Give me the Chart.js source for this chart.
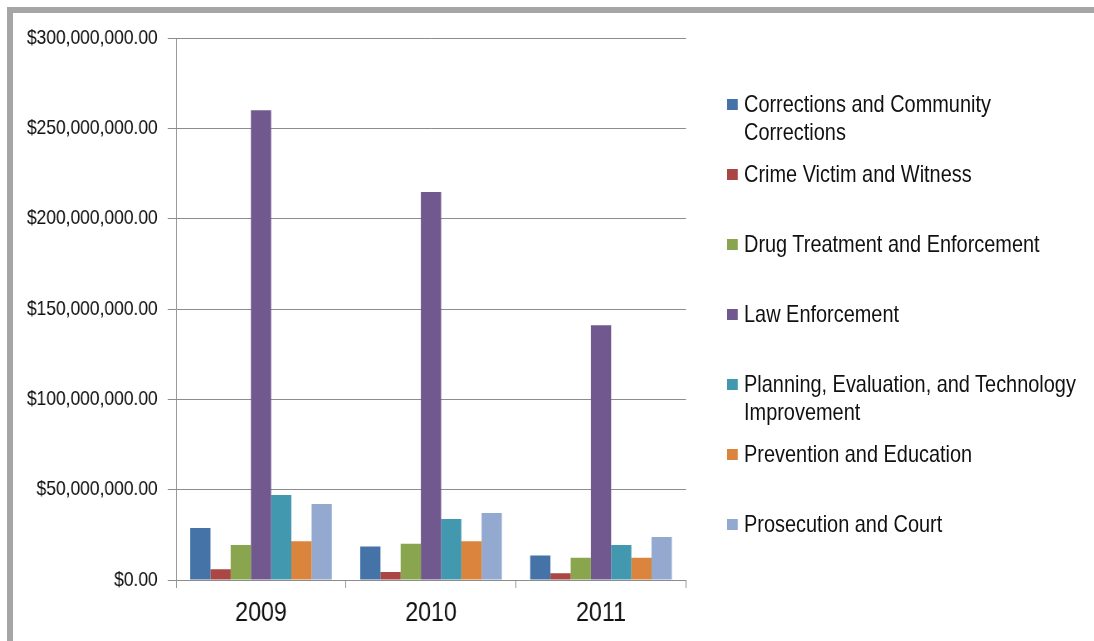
<!DOCTYPE html>
<html>
<head>
<meta charset="utf-8">
<script src="https://cdn.jsdelivr.net/npm/chart.js@4/dist/chart.umd.min.js"></script>
<style>
  html, body { margin: 0; padding: 0; background: #fff; }
  #wrap { position: relative; width: 1094px; height: 641px; overflow: hidden; }
  /* text in this chart is set narrow, so the whole canvas is drawn wide and squeezed */
  #squeeze { position: absolute; left: 0; top: 0; transform: scaleX(0.83); transform-origin: 0 0; }
  #frame {
    position: absolute; left: 7px; top: 7px; width: 1200px; height: 700px;
    border-left: 6px solid #a6a6a6; border-top: 6px solid #a6a6a6;
    box-sizing: border-box;
  }
  #legend {
    position: absolute; left: 727px; top: 0;
    transform: scaleX(0.83); transform-origin: 0 0;
    font-family: "Liberation Sans", Arial, sans-serif;
    font-size: 24px; color: #111;
  }
  .item { position: absolute; left: 0; width: 440px; line-height: 28px; }
  .box { position: absolute; left: 0; top: 9px; width: 13.3px; height: 11px; }
  .txt { margin-left: 20.5px; width: 410px; }
</style>
</head>
<body>
<div id="wrap">
  <div id="squeeze"><canvas id="funding"></canvas></div>
  <div id="frame"></div>
  <div id="legend"></div>
</div>
<script>
const years = ['2009', '2010', '2011'];
const seriesNames = [
  'Corrections and Community Corrections',
  'Crime Victim and Witness',
  'Drug Treatment and Enforcement',
  'Law Enforcement',
  'Planning, Evaluation, and Technology Improvement',
  'Prevention and Education',
  'Prosecution and Court'
];
// dollars per year, one array per program area
const corrections = [28800000, 18600000, 13600000];
const crimeVictim = [5900000, 4400000, 3700000];
const drugTreatment = [19400000, 20100000, 12300000];
const lawEnforcement = [260000000, 214800000, 141000000];
const planning = [47100000, 33800000, 19400000];
const prevention = [21400000, 21400000, 12300000];
const prosecution = [42100000, 37100000, 23800000];
const yTicks = [0, 50000000, 100000000, 150000000, 200000000, 250000000, 300000000];

const colors = ['#4572a7', '#aa4643', '#89a54e', '#71588f', '#4198af', '#db843d', '#93a9cf'];
const values = [corrections, crimeVictim, drugTreatment, lawEnforcement, planning, prevention, prosecution];

const S = 0.83;                 // horizontal squeeze applied to the canvas
const W = Math.round(1094 / S);
const H = 641;
const plotLeft = 176, plotRight = 686;

const canvas = document.getElementById('funding');
canvas.width = W;
canvas.height = H;

const font = '"Liberation Sans", Arial, sans-serif';
const gridGray = '#8c8c8c';

function money(v) {
  return '$' + v.toLocaleString('en-US', { minimumFractionDigits: 2, maximumFractionDigits: 2 });
}

const chart = new Chart(canvas, {
  type: 'bar',
  data: {
    labels: years,
    datasets: seriesNames.map((name, i) => ({
      label: name,
      data: values[i],
      backgroundColor: colors[i],
      borderWidth: 0,
      categoryPercentage: 0.833,
      barPercentage: 1.0
    }))
  },
  options: {
    responsive: false,
    animation: false,
    layout: { padding: { top: 38, right: W - plotRight / S, bottom: 0, left: 0 } },
    plugins: {
      legend: { display: false },
      tooltip: { enabled: false }
    },
    scales: {
      x: {
        grid: {
          drawOnChartArea: false, drawTicks: true, tickLength: 8,
          color: gridGray, lineWidth: 1
        },
        border: { color: gridGray, width: 1 },
        ticks: { color: '#111', padding: 8, font: { family: font, size: 28 } },
        afterFit: s => { s.height = 61; }
      },
      y: {
        min: 0,
        max: 300000000,
        afterBuildTicks: s => { s.ticks = yTicks.map(v => ({ value: v })); },
        grid: { color: gridGray, lineWidth: 1, drawTicks: true, tickLength: 10 },
        border: { color: gridGray, width: 1 },
        ticks: {
          color: '#111', padding: 12,
          font: { family: font, size: 21 },
          callback: v => money(v)
        },
        afterFit: s => { s.width = plotLeft / S; }
      }
    }
  }
});

// legend on the right, built from the datasets
const legend = document.getElementById('legend');
chart.data.datasets.forEach((ds, i) => {
  const item = document.createElement('div');
  item.className = 'item';
  item.style.top = (90 + 70 * i) + 'px';
  const box = document.createElement('div');
  box.className = 'box';
  box.style.background = ds.backgroundColor;
  const txt = document.createElement('div');
  txt.className = 'txt';
  txt.textContent = ds.label;
  item.appendChild(box);
  item.appendChild(txt);
  legend.appendChild(item);
});
</script>
</body>
</html>
